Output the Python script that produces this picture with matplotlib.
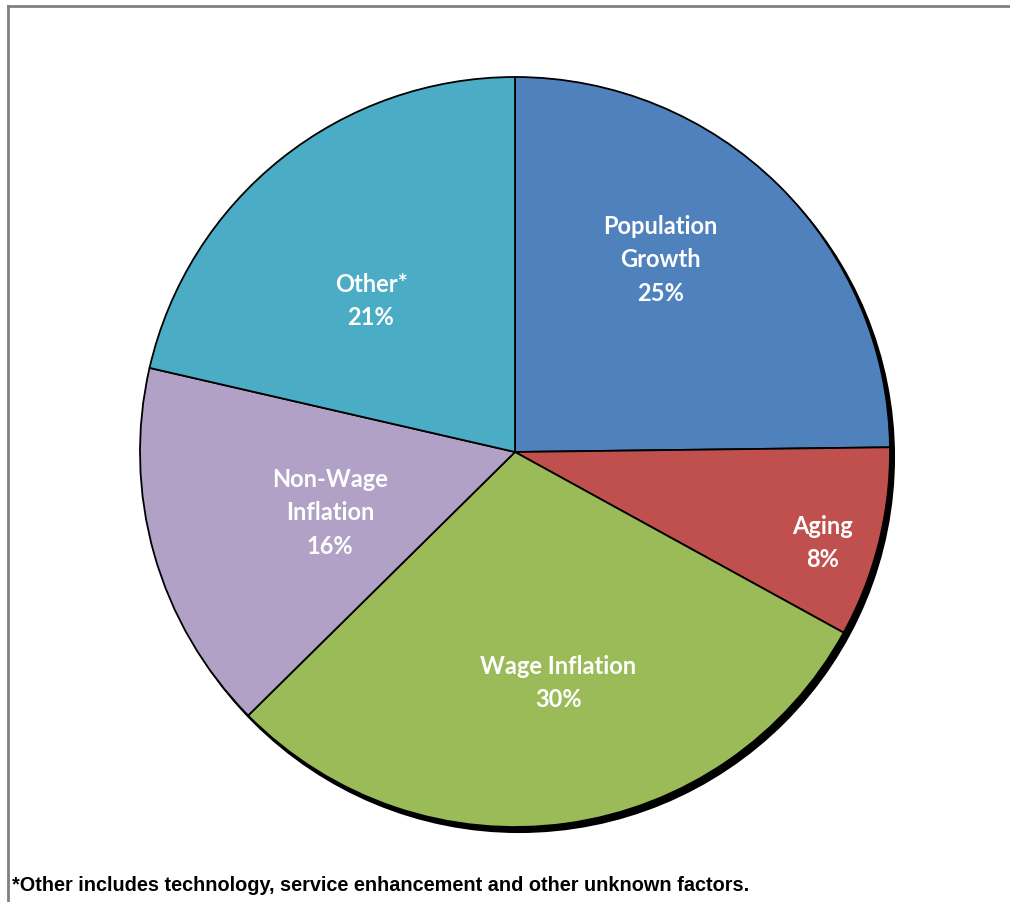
import matplotlib
matplotlib.use("Agg")
import matplotlib.pyplot as plt
from matplotlib.patches import Circle
import numpy as np

categories = ["Population\nGrowth", "Aging", "Wage Inflation", "Non-Wage\nInflation", "Other*"]
shares = [24.8, 8.2, 29.6, 16.0, 21.4]
pct_labels = ["25%", "8%", "30%", "16%", "21%"]
colors = ["#4F81BD", "#C0504D", "#9BBB59", "#B2A1C7", "#4BACC6"]
footnote = "*Other includes technology, service enhancement and other unknown factors."

W, H = 1010, 903
fig = plt.figure(figsize=(W / 100, H / 100), dpi=100)
ax = fig.add_axes([0, 0, 1, 1])

cx, cy, R = 515, 903 - 453, 375

# shadow
ax.add_patch(Circle((cx + 4, cy - 5), R, facecolor="black", edgecolor="black", lw=1.5, zorder=0))

wedges, _ = ax.pie(shares, colors=colors, startangle=90, counterclock=False,
                   center=(cx, cy), radius=R,
                   wedgeprops=dict(edgecolor="black", linewidth=1.3))
for w in wedges:
    w.set_zorder(1)

# label offsets relative to center, in units of radius
offsets = [(0.387, 0.515), (0.819, -0.24), (0.115, -0.613), (-0.493, -0.16), (-0.384, 0.405)]
for (dx, dy), name, pct in zip(offsets, categories, pct_labels):
    ax.text(cx + dx * R, cy + dy * R, f"{name}\n{pct}", ha="center", va="center",
            color="white", fontsize=17, fontweight="bold", family="Lato",
            linespacing=1.55, zorder=3)

ax.set_xlim(0, W)
ax.set_ylim(0, H)
ax.set_aspect("auto")
ax.axis("off")

# frame
fig.add_artist(plt.Line2D([8 / W, 8 / W], [0, 1 - 7 / H], color="#808080", lw=2))
fig.add_artist(plt.Line2D([8 / W, 1], [1 - 7 / H, 1 - 7 / H], color="#808080", lw=2))

fig.text(12 / W, 1 - 886 / H, footnote, ha="left", va="center", fontsize=14.3,
         fontweight="bold", family="Liberation Sans")

fig.savefig("out.png", dpi=100)
